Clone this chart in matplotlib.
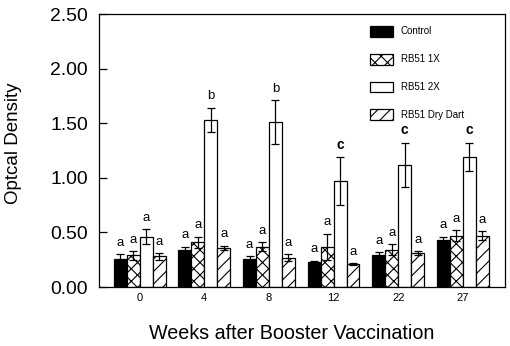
import numpy as np
import matplotlib.pyplot as plt

# render at 75 dpi so the hatch spacing matches the reference; K rescales point sizes
K = 100 / 75

plt.rcParams['font.family'] = ['Liberation Sans', 'DejaVu Sans']
plt.rcParams['hatch.linewidth'] = 0.8 * K

weeks = ['0', '4', '8', '12', '22', '27']
groups = ['Control', 'RB51 1X', 'RB51 2X', 'RB51 Dry Dart']

control = [0.26, 0.34, 0.26, 0.23, 0.29, 0.43]
control_err = [0.04, 0.03, 0.02, 0.01, 0.03, 0.03]
rb1x = [0.29, 0.41, 0.37, 0.37, 0.34, 0.47]
rb1x_err = [0.04, 0.05, 0.04, 0.12, 0.05, 0.05]
rb2x = [0.46, 1.53, 1.51, 0.97, 1.12, 1.19]
rb2x_err = [0.07, 0.11, 0.20, 0.22, 0.20, 0.13]
drydart = [0.28, 0.36, 0.27, 0.21, 0.31, 0.47]
drydart_err = [0.03, 0.02, 0.03, 0.01, 0.02, 0.04]

letters_control = ['a', 'a', 'a', 'a', 'a', 'a']
letters_1x = ['a', 'a', 'a', 'a', 'a', 'a']
letters_2x = ['a', 'b', 'b', 'c', 'c', 'c']
letters_dd = ['a', 'a', 'a', 'a', 'a', 'a']

series = [
    (control, control_err, letters_control, 'black', ''),
    (rb1x, rb1x_err, letters_1x, 'white', 'xx'),
    (rb2x, rb2x_err, letters_2x, 'white', ''),
    (drydart, drydart_err, letters_dd, 'white', '//'),
]

fig = plt.figure(figsize=(510 / 75, 346 / 75), dpi=75)
ax = fig.add_axes([0.194, 0.1705, 0.796, 0.789])

x = np.arange(len(weeks))
w = 0.2
for i, (vals, errs, lets, color, hatch) in enumerate(series):
    pos = x + (i - 1.5) * w
    ax.bar(pos, vals, w, color=color, edgecolor='black', hatch=hatch,
           linewidth=0.9 * K, label=groups[i])
    ax.errorbar(pos, vals, yerr=errs, fmt='none', ecolor='black',
                elinewidth=0.9 * K, capsize=3 * K, capthick=0.9 * K)
    for p, v, e, l in zip(pos, vals, errs, lets):
        if l == 'c':
            ax.text(p, v + e + 0.05, l, ha='center', va='bottom',
                    fontsize=10 * K, fontweight='bold')
        else:
            ax.text(p, v + e + 0.05, l, ha='center', va='bottom', fontsize=9.5 * K)

ax.set_xlim(-0.63, 5.65)
ax.set_ylim(0, 2.5)
ax.set_xticks(x)
ax.set_xticklabels(weeks, fontsize=8 * K)
ax.set_yticks([0, 0.5, 1.0, 1.5, 2.0, 2.5])
ax.set_yticklabels(['0.00', '0.50', '1.00', '1.50', '2.00', '2.50'], fontsize=14 * K)
for s in ax.spines.values():
    s.set_linewidth(0.9 * K)
ax.tick_params(axis='x', length=0, pad=4 * K)
ax.tick_params(axis='y', direction='in', length=6 * K, width=0.9 * K, pad=8 * K)
ax.set_xlabel('Weeks after Booster Vaccination', fontsize=14.2 * K)
ax.xaxis.set_label_coords(0.475, -0.135)
ax.set_ylabel('Optcal Density', fontsize=13.5 * K)
ax.yaxis.set_label_coords(-0.19, 0.527)

ax.legend(loc='upper left', bbox_to_anchor=(0.655, 0.975), frameon=False,
          fontsize=7 * K, handlelength=2.4, handleheight=1.35, labelspacing=1.75,
          borderpad=0, handletextpad=0.8)

fig.savefig('out.png', dpi=75)
